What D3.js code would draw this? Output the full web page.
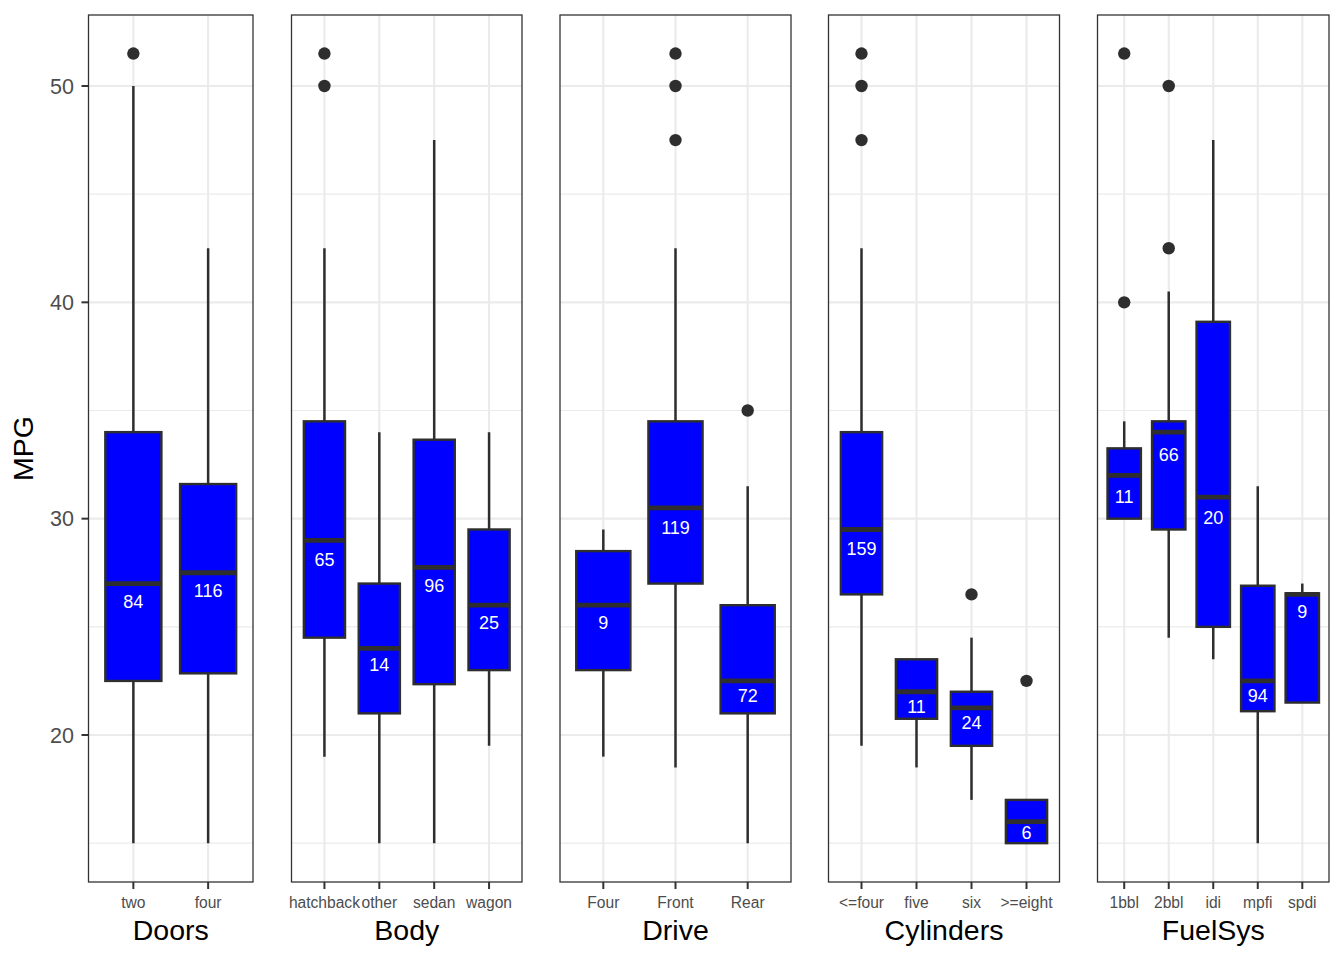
<!DOCTYPE html>
<html>
<head>
<meta charset="utf-8">
<script src="https://cdn.jsdelivr.net/npm/d3@7"></script>
<style>
  html, body { margin: 0; padding: 0; background: #ffffff; }
  svg { display: block; font-family: "Liberation Sans", Arial, Helvetica, sans-serif; }
</style>
</head>
<body>
<svg id="chart" width="1344" height="960"></svg>
<script>
// ---------------- data ----------------
const panelTitles = ["Doors", "Body", "Drive", "Cylinders", "FuelSys"];
const yTicks = [20, 30, 40, 50];
const yMinor = [15, 25, 35, 45];

const doorsCats  = ["two", "four"];
const doorsLow   = [15, 15];
const doorsQ1    = [22.5, 22.85];
const doorsMed   = [27, 27.5];
const doorsQ3    = [34, 31.6];
const doorsHigh  = [50, 42.5];
const doorsOut   = [[51.5], []];
const doorsN     = [84, 116];

const bodyCats   = ["hatchback", "other", "sedan", "wagon"];
const bodyLow    = [19, 15, 15, 19.5];
const bodyQ1     = [24.5, 21, 22.35, 23];
const bodyMed    = [29, 24, 27.75, 26];
const bodyQ3     = [34.5, 27, 33.65, 29.5];
const bodyHigh   = [42.5, 34, 47.5, 34];
const bodyOut    = [[51.5, 50], [], [], []];
const bodyN      = [65, 14, 96, 25];

const driveCats  = ["Four", "Front", "Rear"];
const driveLow   = [19, 18.5, 15];
const driveQ1    = [23, 27, 21];
const driveMed   = [26, 30.5, 22.5];
const driveQ3    = [28.5, 34.5, 26];
const driveHigh  = [29.5, 42.5, 31.5];
const driveOut   = [[], [51.5, 50, 47.5], [35]];
const driveN     = [9, 119, 72];

const cylCats    = ["<=four", "five", "six", ">=eight"];
const cylLow     = [19.5, 18.5, 17, 15];
const cylQ1      = [26.5, 20.75, 19.5, 15];
const cylMed     = [29.5, 22, 21.25, 16];
const cylQ3      = [34, 23.5, 22, 17];
const cylHigh    = [42.5, 23.5, 24.5, 17];
const cylOut     = [[51.5, 50, 47.5], [], [26.5], [22.5]];
const cylN       = [159, 11, 24, 6];

const fuelCats   = ["1bbl", "2bbl", "idi", "mpfi", "spdi"];
const fuelLow    = [30, 24.5, 23.5, 15, 21.5];
const fuelQ1     = [30, 29.5, 25, 21.1, 21.5];
const fuelMed    = [32, 34, 31, 22.5, 26.5];
const fuelQ3     = [33.25, 34.5, 39.1, 26.9, 26.55];
const fuelHigh   = [34.5, 40.5, 47.5, 31.5, 27];
const fuelOut    = [[51.5, 40], [50, 42.5], [], [], []];
const fuelN      = [11, 66, 20, 94, 9];

const panels = [
  {cats: doorsCats, low: doorsLow, q1: doorsQ1, med: doorsMed, q3: doorsQ3, high: doorsHigh, out: doorsOut, n: doorsN},
  {cats: bodyCats,  low: bodyLow,  q1: bodyQ1,  med: bodyMed,  q3: bodyQ3,  high: bodyHigh,  out: bodyOut,  n: bodyN},
  {cats: driveCats, low: driveLow, q1: driveQ1, med: driveMed, q3: driveQ3, high: driveHigh, out: driveOut, n: driveN},
  {cats: cylCats,   low: cylLow,   q1: cylQ1,   med: cylMed,   q3: cylQ3,   high: cylHigh,   out: cylOut,   n: cylN},
  {cats: fuelCats,  low: fuelLow,  q1: fuelQ1,  med: fuelMed,  q3: fuelQ3,  high: fuelHigh,  out: fuelOut,  n: fuelN}
];

// ---------------- layout ----------------
const panelX = [[88.5, 253], [291.5, 522], [560, 791], [828.5, 1059.5], [1097.5, 1329]];
const plotTop = 15, plotBottom = 882;

const svg = d3.select("#chart");
const y = d3.scaleLinear().domain([13.205, 53.282]).range([plotBottom, plotTop]);

const grid = "#EBEBEB", dark = "#2E2E2E";

panels.forEach((p, i) => {
  const [x0, x1] = panelX[i];
  const x = d3.scalePoint().domain(p.cats).range([x0, x1]).padding(0.6);
  const bw = x.step() * 0.75;
  const g = svg.append("g");

  // grid
  g.selectAll(".minor").data(yMinor).join("line")
    .attr("x1", x0).attr("x2", x1).attr("y1", d => y(d)).attr("y2", d => y(d))
    .attr("stroke", grid).attr("stroke-width", 1.1);
  g.selectAll(".major").data(yTicks).join("line")
    .attr("x1", x0).attr("x2", x1).attr("y1", d => y(d)).attr("y2", d => y(d))
    .attr("stroke", grid).attr("stroke-width", 2.1);
  g.selectAll(".vmajor").data(p.cats).join("line")
    .attr("x1", d => x(d)).attr("x2", d => x(d)).attr("y1", plotTop).attr("y2", plotBottom)
    .attr("stroke", grid).attr("stroke-width", 2.1);

  const idx = d3.range(p.cats.length);
  // whiskers
  g.selectAll(".wh").data(idx).join("line")
    .attr("x1", k => x(p.cats[k])).attr("x2", k => x(p.cats[k]))
    .attr("y1", k => y(p.high[k])).attr("y2", k => y(p.low[k]))
    .attr("stroke", dark).attr("stroke-width", 2.5);
  // boxes
  g.selectAll(".box").data(idx).join("rect")
    .attr("x", k => x(p.cats[k]) - bw / 2).attr("width", bw)
    .attr("y", k => y(p.q3[k])).attr("height", k => y(p.q1[k]) - y(p.q3[k]))
    .attr("fill", "#0000FF").attr("stroke", dark).attr("stroke-width", 2.4);
  // medians
  g.selectAll(".med").data(idx).join("line")
    .attr("x1", k => x(p.cats[k]) - bw / 2).attr("x2", k => x(p.cats[k]) + bw / 2)
    .attr("y1", k => y(p.med[k])).attr("y2", k => y(p.med[k]))
    .attr("stroke", dark).attr("stroke-width", 4.8);
  // outliers
  const outs = [];
  idx.forEach(k => p.out[k].forEach(v => outs.push({c: p.cats[k], v})));
  g.selectAll(".out").data(outs).join("circle")
    .attr("cx", d => x(d.c)).attr("cy", d => y(d.v)).attr("r", 6.2)
    .attr("fill", dark);
  // counts
  g.selectAll(".cnt").data(idx).join("text")
    .attr("x", k => x(p.cats[k])).attr("y", k => y(p.med[k] * 0.97))
    .attr("dy", "0.38em")
    .attr("text-anchor", "middle").attr("fill", "#ffffff")
    .attr("font-size", 18).text(k => p.n[k]);

  // panel border
  g.append("rect").attr("x", x0).attr("y", plotTop).attr("width", x1 - x0).attr("height", plotBottom - plotTop)
    .attr("fill", "none").attr("stroke", "#333333").attr("stroke-width", 1.3);

  // x ticks and labels
  g.selectAll(".xt").data(p.cats).join("line")
    .attr("x1", d => x(d)).attr("x2", d => x(d)).attr("y1", plotBottom).attr("y2", plotBottom + 7)
    .attr("stroke", "#333333").attr("stroke-width", 2);
  g.selectAll(".xl").data(p.cats).join("text")
    .attr("x", d => x(d)).attr("y", 907.5)
    .attr("text-anchor", "middle").attr("fill", "#4D4D4D").attr("font-size", 15.6)
    .text(d => d);
  // panel title
  g.append("text").attr("x", (x0 + x1) / 2).attr("y", 940)
    .attr("text-anchor", "middle").attr("fill", "#000000").attr("font-size", 28.5)
    .text(panelTitles[i]);

  // y axis only on first panel
  if (i === 0) {
    g.selectAll(".yt").data(yTicks).join("line")
      .attr("x1", x0 - 7).attr("x2", x0).attr("y1", d => y(d)).attr("y2", d => y(d))
      .attr("stroke", "#333333").attr("stroke-width", 2);
    g.selectAll(".yl").data(yTicks).join("text")
      .attr("x", 74).attr("y", d => y(d)).attr("dy", "0.36em")
      .attr("text-anchor", "end").attr("fill", "#4D4D4D").attr("font-size", 21.5)
      .text(d => d);
  }
});

svg.append("text")
  .attr("transform", `translate(33, ${(plotTop + plotBottom) / 2}) rotate(-90)`)
  .attr("text-anchor", "middle").attr("fill", "#000000").attr("font-size", 28.5)
  .text("MPG");
</script>
</body>
</html>
